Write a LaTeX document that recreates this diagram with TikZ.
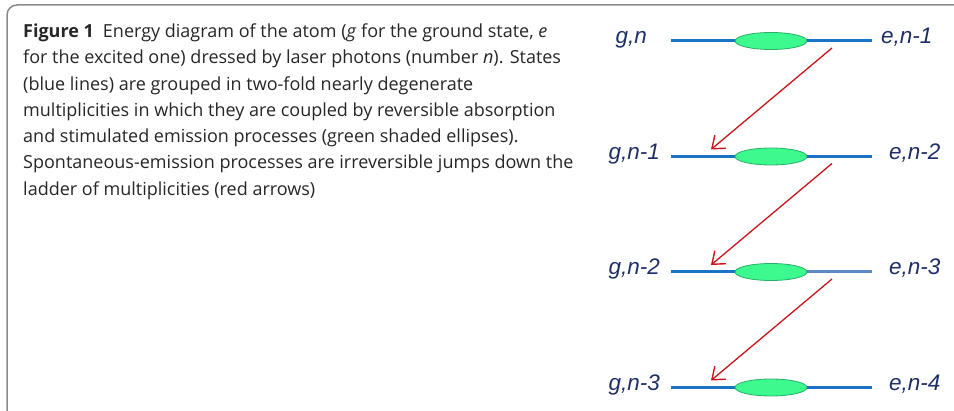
\documentclass[tikz,border=0pt]{standalone}
\usepackage{fontspec}
\setmainfont{Open Sans}
\newfontfamily\labfont{Liberation Sans}
\usetikzlibrary{arrows.meta,shapes.geometric}
\definecolor{framegray}{HTML}{8A8A8A}
\definecolor{captext}{HTML}{262626}
\definecolor{levblue}{HTML}{1A73C4}
\definecolor{levblue2}{HTML}{5A88C0}
\definecolor{ellfill}{HTML}{3DFA8E}
\definecolor{elldraw}{HTML}{2AAE68}
\definecolor{labnavy}{HTML}{1E2E66}
\definecolor{arrred}{HTML}{C8151B}
\tikzset{
  level/.style={draw=levblue, line width=3pt},
  coupling/.style={ellipse, draw=elldraw, line width=0.8pt, fill=ellfill, minimum width=72pt, minimum height=17pt, inner sep=0pt},
  glab/.style={anchor=mid east, text=labnavy, font=\labfont\fontsize{22.5}{26}\selectfont\itshape, inner sep=0pt},
  elab/.style={anchor=mid west, text=labnavy, font=\labfont\fontsize{22.5}{26}\selectfont\itshape, inner sep=0pt},
  jump/.style={draw=arrred, line width=1.3pt, -{Straight Barb[length=11pt,width=17pt,line width=1.4pt]}},
  capline/.style={anchor=base west, inner sep=0pt, text=captext, font=\fontsize{18}{26.3}\selectfont}
}
\begin{document}
\begin{tikzpicture}[x=1pt,y=-1pt]
\useasboundingbox (0,0) rectangle (954,411);
\clip (0,0) rectangle (954,411);
\draw[framegray, line width=1.5pt, rounded corners=10pt] (7,430) -- (7,5) -- (975,5) -- (975,430);
\node[capline] (cap1) at (23,37.5) {\textbf{Figure 1}\enspace Energy diagram of the atom (\textit{g} for the ground state, \textit{e}};
\node[capline] (cap2) at (23,63.8) {for the excited one) dressed by laser photons (number \textit{n}). States};
\node[capline] (cap3) at (23,90.1) {(blue lines) are grouped in two-fold nearly degenerate};
\node[capline] (cap4) at (23,116.4) {multiplicities in which they are coupled by reversible absorption};
\node[capline] (cap5) at (23,142.7) {and stimulated emission processes (green shaded ellipses).};
\node[capline] (cap6) at (23,169.0) {Spontaneous-emission processes are irreversible jumps down the};
\node[capline] (cap7) at (23,195.3) {ladder of multiplicities (red arrows)};
% levels
\foreach \i/\y in {1/41,2/156.5,3/272,4/387.5}{
  \coordinate (L\i) at (671,\y);
  \coordinate (R\i) at (872,\y);
}
\coordinate (M3) at (771,272);
\draw[level] (L1) -- (R1);
\draw[level] (L2) -- (R2);
\draw[level] (L3) -- (M3);
\draw[level, draw=levblue2] (M3) -- (R3);
\draw[level] (L4) -- (R4);
\foreach \i/\y in {1/41,2/156.5,3/272,4/387.5}{
  \node[coupling] (E\i) at (771,\y) {};
}
\node[glab] (g1) at (647,41) {g,n};
\node[glab] (g2) at (660,156.5) {g,n-1};
\node[glab] (g3) at (660,272) {g,n-2};
\node[glab] (g4) at (660,387.5) {g,n-3};
\node[elab] (e1) at (881,41) {e,n-1};
\node[elab] (e2) at (889,156.5) {e,n-2};
\node[elab] (e3) at (889,272) {e,n-3};
\node[elab] (e4) at (889,387.5) {e,n-4};
% jumps
\coordinate (s1) at (832,48);   \coordinate (t1) at (711,149.5);
\coordinate (s2) at (832,163.5); \coordinate (t2) at (711,265);
\coordinate (s3) at (832,279);  \coordinate (t3) at (711,380.5);
\draw[jump] (s1) -- (t1);
\draw[jump] (s2) -- (t2);
\draw[jump] (s3) -- (t3);
\end{tikzpicture}
\end{document}
